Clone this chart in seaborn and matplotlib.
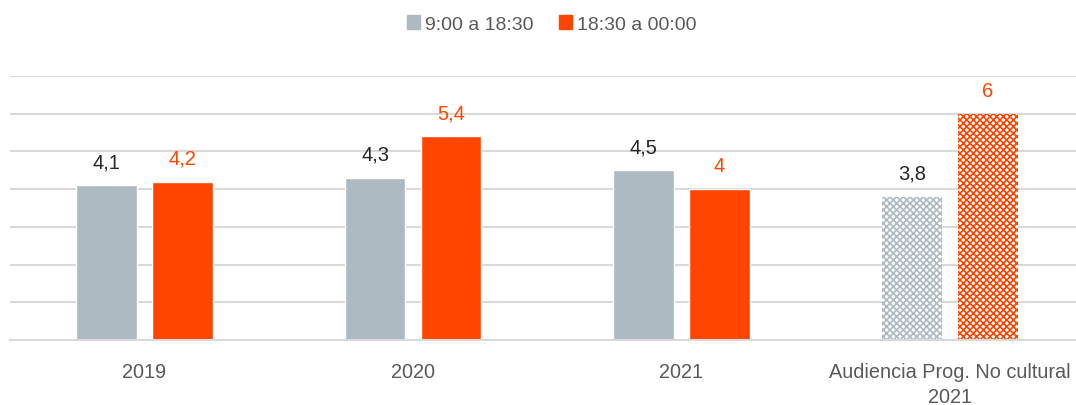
import matplotlib
matplotlib.use("Agg")
import matplotlib.pyplot as plt
import matplotlib.patches as mpatches
import seaborn as sns
import pandas as pd

categories = ["2019", "2020", "2021", "Audiencia Prog. No cultural\n2021"]
series_names = ["9:00 a 18:30", "18:30 a 00:00"]
day_values = [4.1, 4.3, 4.5, 3.8]
night_values = [4.2, 5.4, 4.0, 6.0]
day_labels = ["4,1", "4,3", "4,5", "3,8"]
night_labels = ["4,2", "5,4", "4", "6"]

GRAY = "#ADBAC2"
RED = "#FF4500"

df = pd.DataFrame({
    "cat": categories * 2,
    "serie": [series_names[0]] * 4 + [series_names[1]] * 4,
    "valor": day_values + night_values,
})

sns.set_theme(style="white")
plt.rcParams["font.family"] = ["Liberation Sans", "DejaVu Sans"]
plt.rcParams["hatch.linewidth"] = 1.2

W, H = 1076, 406
fig = plt.figure(figsize=(W / 100, H / 100), dpi=100)
# the plotting area runs slightly past the right edge so the groups sit evenly
ax = fig.add_axes([10.25 / W, 1 - 341 / H, 1074 / W, (341 - 77) / H])

sns.barplot(data=df, x="cat", y="valor", hue="serie", order=categories,
            hue_order=series_names, palette=[GRAY, RED], width=0.566, gap=0.21,
            saturation=1, legend=False, ax=ax)

ax.set_ylim(0, 7)
ax.set_xlim(-0.5, 3.5)
ax.set_yticks(range(0, 8))
ax.yaxis.grid(True, color="#D9D9D9", linewidth=1.5)
ax.set_axisbelow(True)
ax.tick_params(axis="y", left=False, labelleft=False)
ax.tick_params(axis="x", bottom=False, labelsize=14.3, labelcolor="#595959", pad=10)
for lbl in ax.get_xticklabels():
    lbl.set_linespacing(1.4)
for s in ["top", "right", "left"]:
    ax.spines[s].set_visible(False)
ax.spines["bottom"].set_color("#D9D9D9")
ax.spines["bottom"].set_linewidth(1.5)
ax.set_xlabel("")
ax.set_ylabel("")

containers = ax.containers
colors = [GRAY, RED]
# Last category is drawn with a checkered fill
for cont, col in zip(containers, colors):
    last = cont.patches[-1]
    last.set_facecolor("white")
    last.set_edgecolor(col)
    last.set_hatch("xxxxx")
    last.set_linewidth(0)

ax.bar_label(containers[0], labels=day_labels, padding=10, fontsize=14.5, color="#262626")
ax.bar_label(containers[1], labels=night_labels, padding=10, fontsize=14.5, color=RED)

handles = [mpatches.Patch(color=GRAY, label=series_names[0]),
           mpatches.Patch(color=RED, label=series_names[1])]
fig.legend(handles=handles, loc="center", bbox_to_anchor=(551.5 / W, 1 - 25 / H), ncol=2,
           frameon=False, fontsize=14, labelcolor="#595959", handlelength=0.68,
           handleheight=0.68, handletextpad=0.25, columnspacing=1.3,
           borderpad=0, borderaxespad=0)

fig.savefig("out.png", dpi=100)
